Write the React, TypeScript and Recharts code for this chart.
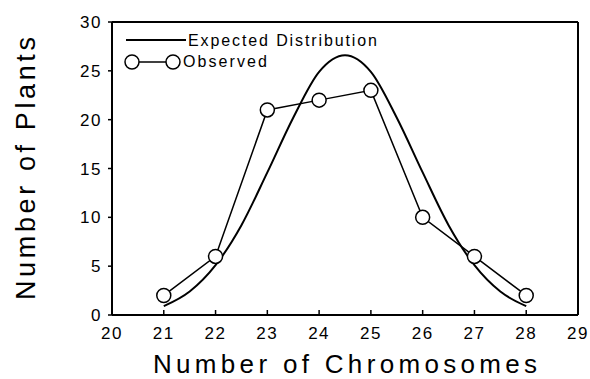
import { LineChart, Line, XAxis, YAxis, Legend } from 'recharts';

// chromosome number counts
const observedX = [21, 22, 23, 24, 25, 26, 27, 28];
const observedY = [2, 6, 21, 22, 23, 10, 6, 2];

// expected curve at half steps
const expectedX = [21, 21.5, 22, 22.5, 23, 23.5, 24, 24.5, 25, 25.5, 26, 26.5, 27, 27.5, 28];
const expectedY = [0.9, 2.4, 5.1, 9.2, 14.6, 20.2, 24.9, 26.6, 24.9, 20.2, 14.6, 9.2, 5.1, 2.4, 0.9];

const xTicks = [20, 21, 22, 23, 24, 25, 26, 27, 28, 29];
const yTicks = [0, 5, 10, 15, 20, 25, 30];

const observed = observedX.map((x, i) => ({ x, y: observedY[i] }));
const expected = expectedX.map((x, i) => ({ x, y: expectedY[i] }));

const FONT = '"Liberation Sans", Arial, Helvetica, sans-serif';
const tickStyle = { fill: '#000', fontSize: 17, fontFamily: FONT, letterSpacing: 1.5 };

function LegendBox() {
  return (
    <svg width={280} height={60} style={{ display: 'block' }}>
      <line x1={16} y1={20} x2={76} y2={20} stroke="#000" strokeWidth={2} />
      <text x={78} y={26} fontSize={16} fontFamily={FONT} textLength={189} lengthAdjust="spacing">
        Expected Distribution
      </text>
      <line x1={29} y1={42} x2={56} y2={42} stroke="#000" strokeWidth={1.5} />
      <circle cx={22} cy={42} r={7} fill="#fff" stroke="#000" strokeWidth={1.5} />
      <circle cx={63} cy={42} r={7} fill="#fff" stroke="#000" strokeWidth={1.5} />
      <text x={73} y={47} fontSize={16} fontFamily={FONT} textLength={84} lengthAdjust="spacing">
        Observed
      </text>
    </svg>
  );
}

function XLabel(props: any) {
  const vb = props.viewBox;
  return (
    <text
      x={vb.x + vb.width / 2}
      y={vb.y + 58}
      textAnchor="middle"
      fontSize={26}
      fontFamily={FONT}
      textLength={384}
      lengthAdjust="spacing"
    >
      Number of Chromosomes
    </text>
  );
}

function YLabel(props: any) {
  const vb = props.viewBox;
  const cx = 35;
  const cy = vb.y + vb.height / 2;
  return (
    <text
      x={cx}
      y={cy}
      transform={`rotate(-90 ${cx} ${cy})`}
      textAnchor="middle"
      fontSize={27}
      fontFamily={FONT}
      textLength={263}
      lengthAdjust="spacing"
    >
      Number of Plants
    </text>
  );
}

export default function App() {
  return (
    <div style={{ position: 'absolute', left: 0, top: 0, background: '#fff' }}>
      <LineChart width={590} height={379} margin={{ top: 21, right: 0, left: 0, bottom: 0 }}>
        <XAxis
          xAxisId="bottom"
          dataKey="x"
          type="number"
          domain={[20, 29]}
          ticks={xTicks}
          interval={0}
          height={64}
          tick={tickStyle}
          tickSize={-5}
          tickMargin={17}
          axisLine={{ stroke: '#000', strokeWidth: 2 }}
          tickLine={{ stroke: '#000', strokeWidth: 1.5 }}
          label={<XLabel />}
        />
        <XAxis
          xAxisId="top"
          orientation="top"
          dataKey="x"
          type="number"
          domain={[20, 29]}
          height={1}
          tick={false}
          tickLine={false}
          axisLine={{ stroke: '#000', strokeWidth: 2 }}
        />
        <YAxis
          yAxisId="left"
          type="number"
          domain={[0, 30]}
          ticks={yTicks}
          interval={0}
          width={112}
          tick={tickStyle}
          tickSize={4}
          tickMargin={6}
          axisLine={{ stroke: '#000', strokeWidth: 2 }}
          tickLine={{ stroke: '#000', strokeWidth: 1.5 }}
          label={<YLabel />}
        />
        <YAxis
          yAxisId="right"
          orientation="right"
          type="number"
          domain={[0, 30]}
          ticks={yTicks}
          interval={0}
          width={12}
          tick={false}
          tickSize={-5}
          axisLine={{ stroke: '#000', strokeWidth: 2 }}
          tickLine={{ stroke: '#000', strokeWidth: 1.5 }}
        />
        <Legend
          layout="vertical"
          align="center"
          verticalAlign="middle"
          wrapperStyle={{ left: 110, top: 20 }}
          content={() => <LegendBox />}
        />
        <Line
          xAxisId="bottom"
          yAxisId="left"
          data={expected}
          dataKey="y"
          type="monotone"
          stroke="#000"
          strokeWidth={2}
          dot={false}
          isAnimationActive={false}
          name="Expected Distribution"
        />
        <Line
          xAxisId="bottom"
          yAxisId="left"
          data={observed}
          dataKey="y"
          type="linear"
          stroke="#000"
          strokeWidth={1.5}
          dot={{ r: 7, fill: '#fff', stroke: '#000', strokeWidth: 1.5 }}
          isAnimationActive={false}
          name="Observed"
        />
      </LineChart>
    </div>
  );
}
